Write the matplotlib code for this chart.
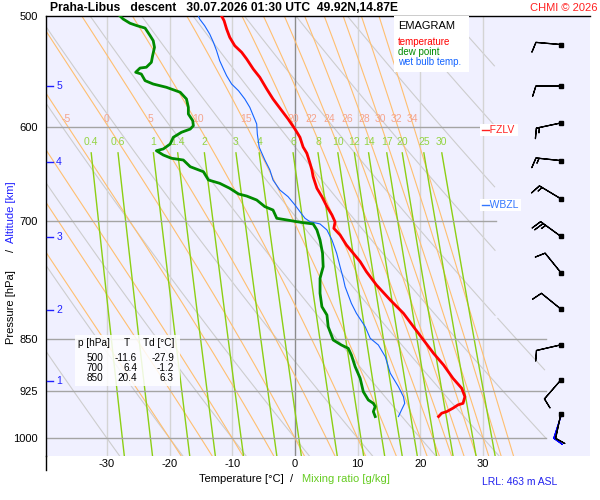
import numpy as np
import matplotlib.pyplot as plt
from matplotlib.patches import Rectangle

plt.rcParams['font.family'] = ['Liberation Sans', 'DejaVu Sans']

# ---- sounding (p in hPa, values in degC) ----
t_p = [500, 503.9, 510.8, 517.8, 525.0, 530.7, 536.6, 545.5, 553.0, 563.7, 573.0,
       584.1, 592.1, 602.0, 610.2, 620.0, 626.4, 636.8, 643.8, 651.0, 663.5, 672.7,
       683.8, 693.2, 701.2, 708.6, 716.4, 728.2, 738.2, 748.4, 760.9, 777.7, 797.1,
       814.7, 832.8, 851.2, 870.0, 886.9, 906.5, 921.5, 934.3, 944.5, 946.9, 952.0,
       957.4, 959.9, 965.2]
t_val = [-11.7, -11.3, -10.9, -10.4, -9.6, -8.5, -7.7, -6.65, -5.6, -4.5, -3.5,
         -2.1, -1.1, 0.0, 0.8, 1.3, 1.9, 2.4, 2.7, 2.9, 3.5, 4.3,
         5.1, 5.9, 6.4, 6.2, 7.2, 8.2, 9.3, 10.4, 11.4, 13.0, 15.2,
         17.3, 18.9, 20.5, 22.1, 23.7, 25.2, 26.6, 27.1, 26.8, 26.0, 25.2,
         24.2, 23.4, 22.9]

td_p = [500, 502.5, 506.0, 508.0, 510.0, 516.4, 520.7, 526.4, 533.7, 539.5, 543.9,
        544.6, 548.4, 550.0, 556.0, 559.1, 562.1, 566.7, 573.0, 580.9, 587.3, 593.8,
        598.7, 602.0, 605.2, 610.2, 617.0, 622.0, 623.8, 628.2, 631.6, 633.4, 640.4,
        645.7, 654.5, 658.1, 663.5, 669.7, 672.0, 676.4, 683.8, 687.6, 697.0, 698.9,
        700.9, 702.0, 703.5, 710.5, 722.3, 738.2, 754.7, 769.2, 788.4, 805.9, 817.0,
        832.8, 851.2, 858.2, 862.9, 872.4, 889.3, 906.5, 926.7, 939.3, 944.5, 949.5,
        957.4, 965.2]
td_val = [-27.9, -27.4, -26.3, -25.2, -23.9, -23.1, -22.6, -22.4, -22.7, -22.9, -23.7,
          -24.7, -25.4, -24.5, -23.9, -22.6, -20.5, -18.3, -17.3, -17.0, -17.0, -16.3,
          -16.2, -16.7, -18.1, -19.4, -19.9, -21.0, -22.1, -21.0, -19.7, -17.8, -16.7,
          -14.6, -13.8, -12.0, -10.4, -9.0, -7.7, -6.1, -4.8, -3.5, -2.9, -1.3,
          0.3, 1.3, 2.9, 3.5, 4.0, 4.4, 4.5, 4.0, 4.0, 4.3, 5.1,
          5.3, 6.1, 7.4, 8.5, 9.0, 9.6, 10.4, 10.9, 11.7, 12.5, 12.8,
          12.5, 12.8]

tw_p = [500, 502.5, 508.0, 515.0, 522.1, 529.3, 538.1, 545.5, 551.5, 559.1, 565.3,
        573.0, 580.9, 588.9, 597.0, 607.0, 620.3, 633.4, 643.8, 654.5, 665.4, 672.7,
        681.9, 689.5, 697.0, 700.9, 703.5, 710.5, 722.3, 738.2, 754.7, 769.2, 779.9,
        801.5, 814.7, 832.8, 848.8, 858.2, 874.8, 898.9, 919.1, 934.3, 944.5, 954.7,
        965.2]
tw_val = [-15.4, -15.2, -14.4, -13.6, -13.0, -12.5, -12.0, -11.4, -10.9, -10.1, -9.0,
          -8.0, -7.2, -6.65, -6.1, -6.0, -5.7, -4.8, -4.0, -3.5, -2.4, -1.1,
          0.0, 0.8, 1.6, 2.4, 4.0, 5.1, 5.9, 6.65, 7.2, 7.7, 8.0,
          9.0, 9.8, 11.2, 12.0, 13.3, 14.4, 15.2, 16.5, 17.3, 17.5, 17.0,
          16.5]

# winds every 0.5 km (direction from, speed)
wind_p = [524, 561, 596, 634, 675, 718, 762, 809, 858, 909, 961]
wind_dir = [275, 270, 258, 276, 301, 306, 321, 309, 257, 221, 192]
wind_spd = [10, 10, 15, 15, 15, 25, 10, 10, 10, 10, 10]
sfc_dir, sfc_spd = 198, 10

alt_km = [1, 2, 3, 4, 5]
alt_p = [911, 810, 719, 635, 561]

table_p = [500, 700, 850]
table_t = [-11.6, 6.4, 20.4]
table_td = [-27.9, -1.2, 6.3]

fzlv_p = 603
wbzl_p = 682

p_ticks = [500, 600, 700, 850, 925, 1000]
isobars = [600, 700, 850, 925, 1000]
isotherms = [-30, -20, -10, 0, 10, 20, 30]
t_ticks = [-30, -20, -10, 0, 10, 20, 30]
theta_dry = list(range(-30, 131, 10))
theta_w = [-20, -15, -10, -5, 0, 5, 10, 15, 20, 22, 24, 26, 28, 30, 32, 34]
theta_w_lab = [-5, 0, 5, 10, 15, 20, 22, 24, 26, 28, 30, 32, 34]
mix_ratio = [0.4, 0.6, 1, 1.4, 2, 3, 4, 6, 8, 10, 12, 14, 17, 20, 25, 30]

# ---- thermodynamics for the background lines ----
Rd, cpd, Lv, eps = 287.04, 1005.7, 2.501e6, 0.622


def sat_mr(T, p):
    es = 6.112 * np.exp(17.67 * (T - 273.15) / (T - 29.65))
    return eps * es / (p - es)


def dT_dlnp(T, p):
    rs = sat_mr(T, p)
    return (Rd * T + Lv * rs) / (cpd + Lv ** 2 * rs * eps / (Rd * T ** 2))


def integrate(t0, lnp):
    T = np.empty_like(lnp)
    T[0] = t0 + 273.15
    for i in range(1, len(lnp)):
        h = lnp[i] - lnp[i - 1]
        k1 = dT_dlnp(T[i - 1], np.exp(lnp[i - 1]))
        k2 = dT_dlnp(T[i - 1] + h * k1, np.exp(lnp[i]))
        T[i] = T[i - 1] + h * (k1 + k2) / 2
    return T - 273.15


def moist_adiabat(tw):
    # returned with pressure increasing
    up = np.linspace(np.log(1000), np.log(495), 150)
    down = np.linspace(np.log(1000), np.log(1040), 10)
    Tu = integrate(tw, up)
    Tdn = integrate(tw, down)
    lnp = np.concatenate([up[::-1], down[1:]])
    T = np.concatenate([Tu[::-1], Tdn[1:]])
    return np.exp(lnp), T


def mr_temp(w, p):
    e = (w / 1000.0) * p / (eps + w / 1000.0)
    a = np.log(e / 6.112)
    return 243.5 * a / (17.67 - a)


def clip_grid(T, p):
    # diagram grid ends at 32 C aloft and at 40 C in the lowest layer
    T = np.array(T, dtype=float)
    T[(T > 40) | ((T > 32) & (p < 820))] = np.nan
    return T


# ---- figure ----
fig = plt.figure(figsize=(6, 5), dpi=100)
fig.patch.set_facecolor('white')
ax = fig.add_axes([46 / 600, 1 - 456 / 500, 544 / 600, 440 / 500])
ax.set_facecolor('#f0f0ff')
ax.set_yscale('log')
ax.set_xlim(-39.7, 47.05)
ax.set_ylim(1029.8, 500)

pp = np.geomspace(495, 1040, 300)
for th in theta_dry:
    T = (th + 273.15) * (pp / 1000.0) ** 0.2857 - 273.15
    ax.plot(clip_grid(T, pp), pp, color='#cdcdcd', lw=0.8, zorder=1)

for t in isotherms:
    ax.axvline(t, color='#8c8c8c' if t == 0 else '#d4d4d4', lw=1.0, zorder=1.5)

for tw in theta_w:
    p_m, T_m = moist_adiabat(tw)
    ax.plot(clip_grid(T_m, p_m), p_m, color='#ffbf70', lw=0.8, zorder=2)
    if tw in theta_w_lab:
        xl = np.interp(np.log(597), np.log(p_m), T_m)
        ax.text(xl, 597, str(tw), color='#f5a48c', fontsize=7.5,
                ha='center', va='bottom', zorder=3)

pm = np.geomspace(626, 1040, 60)
for w in mix_ratio:
    ax.plot(mr_temp(w, pm), pm, color='#8ccf14', lw=1.0, zorder=2)
    ax.text(mr_temp(w, 626), 615, f'{w:g}', color='#94d444', fontsize=7.5,
            ha='center', va='center', zorder=3)

for p in isobars:
    xr = 32 if p <= 700 else 40
    ax.plot([-39.7, xr], [p, p], color='#a4a4a4', lw=1.0, zorder=2.5)

# profiles
ax.plot(tw_val, tw_p, color='#1464ff', lw=0.8, zorder=5)
ax.plot(td_val, td_p, color='#008a00', lw=2.0, zorder=6)
ax.plot(t_val, t_p, color='#ff0000', lw=2.0, zorder=6)

# freezing levels
ax.text(29.6, fzlv_p, '   FZLV ', color='#ff2020', fontsize=7.5, va='center',
        bbox=dict(fc='white', ec='none', boxstyle='square,pad=0.1'), zorder=7)
ax.plot([29.9, 30.9], [fzlv_p, fzlv_p], color='#ff2020', lw=1, zorder=8)
ax.text(29.6, wbzl_p, '   WBZL ', color='#3377ff', fontsize=7.5, va='center',
        bbox=dict(fc='white', ec='none', boxstyle='square,pad=0.1'), zorder=7)
ax.plot([29.9, 30.9], [wbzl_p, wbzl_p], color='#3377ff', lw=1, zorder=8)

# wind barbs
xb = 42.4
d = np.radians(wind_dir)
u = -np.array(wind_spd) * np.sin(d)
v = -np.array(wind_spd) * np.cos(d)
ax.barbs(np.full(len(wind_p), xb), wind_p, u, v, length=6, color='black',
         linewidth=0.9, flip_barb=True, zorder=9)
ds = np.radians(sfc_dir)
ax.barbs([xb], [wind_p[-1]], [-sfc_spd * np.sin(ds)], [-sfc_spd * np.cos(ds)],
         length=6, color='#0000ff', linewidth=0.9, flip_barb=True, zorder=8.5)
ax.plot(np.full(len(wind_p), xb), wind_p, 's', ms=2.2, color='black', zorder=10)

# altitude marks
ytr = ax.get_yaxis_transform()
for km, p in zip(alt_km, alt_p):
    ax.plot([0.002, 0.012], [p, p], color='#2020ff', lw=1, transform=ytr, zorder=7)
    ax.text(0.024, p, str(km), color='#2020ff', fontsize=7.5, va='center',
            ha='center', transform=ytr, zorder=7)

# axes
ax.set_xticks(t_ticks)
ax.set_xticklabels([str(t) for t in t_ticks])
ax.set_yticks(p_ticks)
ax.set_yticklabels([str(p) for p in p_ticks])
ax.yaxis.set_minor_locator(plt.NullLocator())
ax.tick_params(axis='both', length=0, labelsize=8)
ax.tick_params(axis='x', pad=2)
ax.tick_params(axis='y', pad=6)
for s in ['right', 'bottom']:
    ax.spines[s].set_visible(False)
ax.spines['left'].set_linewidth(1.0)
ax.spines['top'].set_linewidth(1.0)
ax.plot([0, 0], [0, -0.032], color='black', lw=1.0, transform=ax.transAxes,
        clip_on=False)

# texts
fig.text(50 / 600, 1 - 8 / 500, 'Praha-Libus   descent   30.07.2026 01:30 UTC  49.92N,14.87E',
         fontsize=8.7, fontweight='bold', va='center', ha='left')
fig.text(597 / 600, 1 - 8 / 500, 'CHMI © 2026', color='#ff2020', fontsize=8,
         va='center', ha='right')

fig.add_artist(Rectangle((394 / 600, 1 - 72 / 500), 75 / 600, 56 / 500,
                         transform=fig.transFigure, fc='white', ec='none', zorder=5))
fig.text(398 / 600, 1 - 26 / 500, 'EMAGRAM', fontsize=8, va='center', zorder=6)
for lab, col, yy in [('temperature', '#ff0000', 42), ('dew point', '#008a00', 52),
                     ('wet bulb temp.', '#1464ff', 62)]:
    fig.text(398 / 600, 1 - yy / 500, lab, color=col, fontsize=7, va='center', zorder=6)

fig.add_artist(Rectangle((75 / 600, 1 - 386 / 500), 105 / 600, 51 / 500,
                         transform=fig.transFigure, fc='white', ec='none',
                         alpha=0.85, zorder=5))
fig.text(78 / 600, 1 - 343 / 500, 'p [hPa]', fontsize=7.2, va='center', zorder=6)
fig.text(127 / 600, 1 - 343 / 500, 'T', fontsize=7.2, va='center', ha='center', zorder=6)
fig.text(143 / 600, 1 - 343 / 500, 'Td [°C]', fontsize=7.2, va='center', zorder=6)
for i, (p, t, td) in enumerate(zip(table_p, table_t, table_td)):
    yy = 1 - (358 + 10 * i) / 500
    fig.text(103 / 600, yy, str(p), fontsize=7.2, va='center', ha='right', zorder=6)
    fig.text(137 / 600, yy, f'{t:.1f}', fontsize=7.2, va='center', ha='right', zorder=6)
    fig.text(174 / 600, yy, f'{td:.1f}', fontsize=7.2, va='center', ha='right', zorder=6)

fig.text(293 / 600, 1 - 479 / 500, 'Temperature [°C]  /', fontsize=8, va='center', ha='right')
fig.text(302 / 600, 1 - 479 / 500, 'Mixing ratio [g/kg]', fontsize=8, va='center',
         ha='left', color='#66cc22')
fig.text(482 / 600, 1 - 482 / 500, 'LRL: 463 m ASL', fontsize=7.5, va='center',
         ha='left', color='#2222ee')

fig.text(11 / 600, 1 - 307 / 500, 'Pressure [hPa]', rotation=90, fontsize=8,
         va='center', ha='center')
fig.text(11 / 600, 1 - 250 / 500, '/', rotation=90, fontsize=8, va='center', ha='center')
fig.text(11 / 600, 1 - 212 / 500, 'Altitude [km]', rotation=90, fontsize=8,
         va='center', ha='center', color='#2020ff')

fig.savefig('out.png', dpi=100)
